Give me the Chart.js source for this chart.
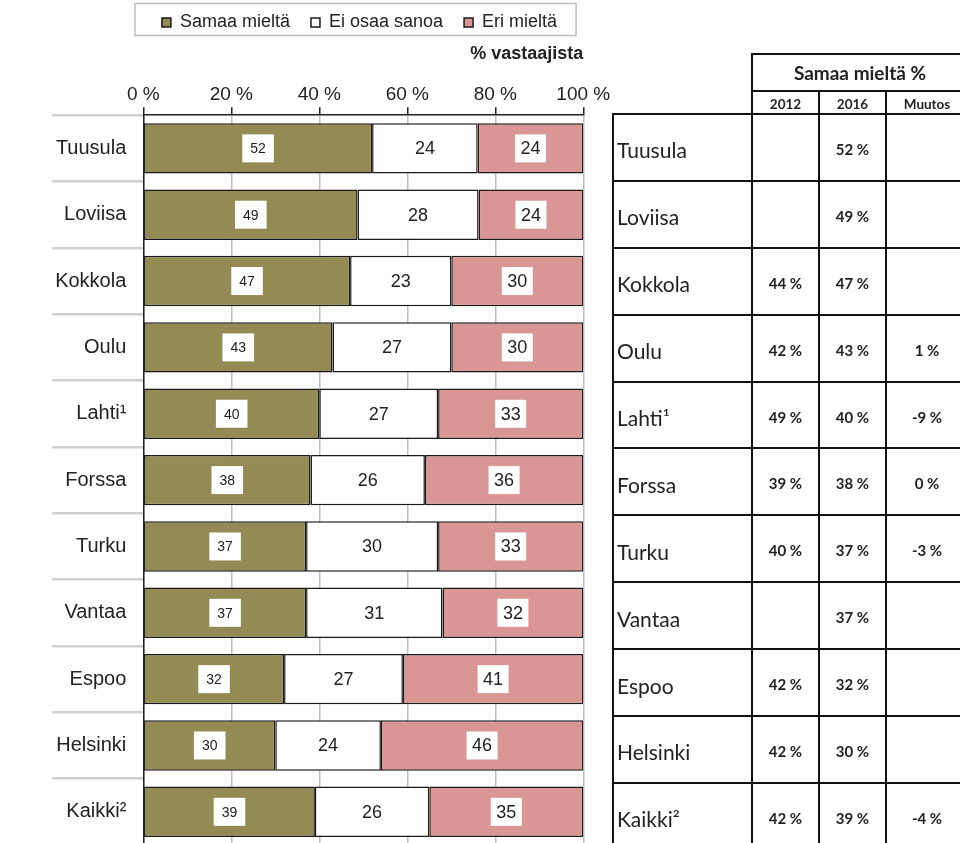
<!DOCTYPE html>
<html><head><meta charset="utf-8">
<script src="https://cdn.jsdelivr.net/npm/chart.js@4/dist/chart.umd.min.js"></script>
<style>
html,body{margin:0;padding:0;width:960px;height:843px;overflow:hidden;background:#fff}
#wrap{position:absolute;left:0;top:0;width:719px;height:846px}
#tbl{position:absolute;left:612px;top:53px;border-collapse:collapse;table-layout:fixed;width:355px;font-family:Lato,"Open Sans",sans-serif;color:#222}
#tbl td,#tbl th{border:2px solid #111;padding:0;text-align:center;vertical-align:middle;overflow:hidden;white-space:nowrap}
#tbl td.blank{border:none}
#tbl tr.h1{height:37px}
#tbl tr.h1 th{font-size:19px;font-weight:700}
#tbl tr.h2{height:23px}
#tbl tr.h2 th{font-size:13.5px;font-weight:700;padding-top:3px}
#tbl tr.d{height:66.9px}
#tbl tr.d td{font-size:15px;font-weight:700;padding-top:3px}
#tbl tr.d td.name{text-align:left;padding-left:3px;font-size:21px;font-weight:400;padding-top:5px}
</style></head>
<body>
<div id="wrap"><canvas id="c" width="719" height="846"></canvas></div>
<table id="tbl"></table>
<script>
const categories = ['Tuusula','Loviisa','Kokkola','Oulu','Lahti¹','Forssa','Turku','Vantaa','Espoo','Helsinki','Kaikki²'];
const samaaMielta = [52, 48.7, 47, 43, 40, 38, 37, 37, 32, 30, 39];
const eiOsaaSanoa = [24, 27.5, 23, 27, 27, 26, 30, 31, 27, 24, 26];
const eriMielta   = [24, 23.8, 30, 30, 33, 36, 33, 32, 41, 46, 35];
const seriesNames = ['Samaa mieltä','Ei osaa sanoa','Eri mieltä'];
const xTicks = [0, 20, 40, 60, 80, 100];
const xTickLabels = ['0 %','20 %','40 %','60 %','80 %','100 %'];
const axisTitle = '% vastaajista';
const tableTitle = 'Samaa mieltä %';
const tableColumns = ['2012','2016','Muutos'];
const table2012   = ['', '', '44 %', '42 %', '49 %', '39 %', '40 %', '', '42 %', '42 %', '42 %'];
const table2016   = ['52 %','49 %','47 %','43 %','40 %','38 %','37 %','37 %','32 %','30 %','39 %'];
const tableMuutos = ['', '', '', '1 %', '-9 %', '0 %', '-3 %', '', '', '', '-4 %'];

const FONT = '"Liberation Sans", Arial, sans-serif';
const TXT = '#222';
const colors = ['#948A54', '#FFFFFF', '#D99694'];

const legendFrame = {
  id: 'legendFrame',
  afterDraw(chart) {
    const hb = chart.legend.legendHitBoxes;
    if (!hb || !hb.length) return;
    const l = Math.min(...hb.map(h => h.left));
    const r = Math.max(...hb.map(h => h.left + h.width));
    const cy = hb[0].top + hb[0].height / 2;
    const ctx = chart.ctx;
    ctx.save();
    ctx.strokeStyle = '#BFBFBF';
    ctx.lineWidth = 1.5;
    ctx.strokeRect(l - 27, cy - 19, (r - l) + 46, 32);
    ctx.restore();
  }
};

const barLabels = {
  id: 'barLabels',
  afterDatasetsDraw(chart) {
    const ctx = chart.ctx;
    ctx.save();
    chart.data.datasets.forEach((ds, i) => {
      const meta = chart.getDatasetMeta(i);
      meta.data.forEach((bar, j) => {
        const txt = String(Math.round(ds.data[j]));
        const size = i === 0 ? 14 : 18;
        ctx.font = size + 'px ' + FONT;
        const cx = (bar.x + bar.base) / 2;
        const cy = bar.y;
        const tw = ctx.measureText(txt).width;
        if (i !== 1) {
          const w = tw + (i === 0 ? 16 : 11);
          const h = 28;
          ctx.fillStyle = '#FFFFFF';
          ctx.fillRect(cx - w / 2, cy - h / 2, w, h);
        }
        ctx.fillStyle = TXT;
        ctx.textAlign = 'center';
        ctx.textBaseline = 'middle';
        ctx.fillText(txt, cx, cy + 1);
      });
    });
    ctx.restore();
  }
};

const seriesData = [samaaMielta, eiOsaaSanoa, eriMielta];
new Chart(document.getElementById('c'), {
  type: 'bar',
  data: {
    labels: categories,
    datasets: seriesData.map((d, i) => ({
      label: seriesNames[i], data: d, backgroundColor: colors[i],
      borderColor: '#1a1a1a', borderWidth: 1.5, borderSkipped: false,
      barPercentage: 0.76, categoryPercentage: 1
    }))
  },
  options: {
    indexAxis: 'y', responsive: false, animation: false,
    layout: { padding: { top: -7.5, left: 0, right: 0, bottom: 1 } },
    plugins: {
      legend: { position: 'top', labels: { boxWidth: 9, boxHeight: 9, padding: 21, color: TXT, font: { family: FONT, size: 18 } } },
      tooltip: { enabled: false }
    },
    scales: {
      x: {
        position: 'top', stacked: true, min: 0, max: 100,
        afterBuildTicks: s => { s.ticks = xTicks.map(v => ({ value: v })); },
        ticks: { padding: 1.3, color: TXT, font: { family: FONT, size: 19 }, maxRotation: 0,
          callback: (v, i) => xTickLabels[i] },
        grid: { color: '#BFBFBF', lineWidth: 1.5, tickLength: 8, tickColor: '#222', tickWidth: 1.5 },
        border: { color: '#222', width: 1.5 },
        title: { display: true, text: axisTitle, align: 'end', color: TXT,
          font: { family: FONT, size: 18, weight: 'bold' }, padding: { top: 1.8, bottom: 16.9 } }
      },
      y: {
        stacked: true,
        afterFit: s => { s.width = 143.3; },
        ticks: { padding: -74, color: TXT, font: { family: FONT, size: 20 } },
        grid: { offset: true, drawOnChartArea: false, tickLength: 91, color: '#D0D0D0', lineWidth: 2.5 },
        border: { color: '#222', width: 1.5 }
      },
      r: {
        position: 'right', type: 'linear', display: true,
        grid: { display: false }, ticks: { display: false }, border: { display: false },
        afterFit: s => { s.width = 135.7; }
      }
    }
  },
  plugins: [legendFrame, barLabels]
});

// table
let html = '<colgroup><col style="width:139px"><col style="width:67px"><col style="width:67px"><col style="width:82px"></colgroup>';
html += '<tr class="h1"><td class="blank" rowspan="2"></td><th colspan="3">' + tableTitle + '</th></tr>';
html += '<tr class="h2">' + tableColumns.map(c => '<th>' + c + '</th>').join('') + '</tr>';
categories.forEach((c, i) => {
  html += '<tr class="d"><td class="name">' + c + '</td><td>' + table2012[i] + '</td><td>' + table2016[i] + '</td><td>' + tableMuutos[i] + '</td></tr>';
});
document.getElementById('tbl').innerHTML = html;
</script>
</body></html>
